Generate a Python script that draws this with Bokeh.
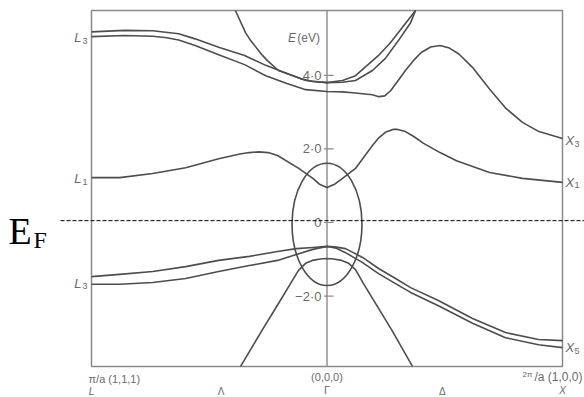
from bokeh.plotting import figure
from bokeh.models import Range1d
from bokeh.core.properties import value
from bokeh.embed import file_html
from bokeh.resources import INLINE

# Band structure along L -> Gamma -> X.
# k: reduced wave vector, L = -1, Gamma = 0, X = +1 ; energies in eV.

# steep conduction band with its minimum at Gamma
cond_k = [-0.389, -0.346, -0.325, -0.274, -0.253, -0.206, -0.185, -0.113, -0.062, 0.0,
          0.066, 0.121, 0.219, 0.270, 0.376]
cond_e = [5.76, 5.16, 4.95, 4.54, 4.40, 4.13, 4.08, 3.91, 3.83, 3.80,
          3.86, 3.99, 4.54, 4.89, 5.76]

# upper L3 band
l3a_k = [-1.0, -0.86, -0.74, -0.63, -0.56, -0.46, -0.35, -0.26, -0.17, -0.09, 0.0,
         0.066, 0.121, 0.193, 0.248, 0.304, 0.355, 0.376]
l3a_e = [5.18, 5.22, 5.21, 5.13, 4.99, 4.76, 4.54, 4.27, 4.05, 3.86, 3.80,
         3.81, 3.86, 4.13, 4.46, 4.95, 5.43, 5.76]

# lower L3 band, continuing to X3
l3b_k = [-1.0, -0.86, -0.74, -0.68, -0.63, -0.56, -0.46, -0.35, -0.26, -0.17, -0.09, 0.0,
         0.066, 0.121, 0.193, 0.22, 0.245, 0.27, 0.30, 0.333, 0.37, 0.40, 0.44, 0.48,
         0.52, 0.56, 0.62, 0.69, 0.76, 0.83, 0.90, 1.0]
l3b_e = [5.05, 5.08, 5.06, 5.02, 4.96, 4.81, 4.56, 4.29, 3.99, 3.78, 3.61, 3.56,
         3.55, 3.52, 3.47, 3.42, 3.44, 3.58, 3.84, 4.13, 4.42, 4.62, 4.77, 4.81,
         4.74, 4.58, 4.20, 3.63, 3.10, 2.72, 2.47, 2.28]

# L1 -> Gamma -> X1 band
l1_k = [-1.0, -0.88, -0.74, -0.60, -0.46, -0.37, -0.33, -0.29, -0.25, -0.21, -0.12, -0.06,
        -0.03, 0.0, 0.03, 0.066, 0.121, 0.193, 0.22, 0.248, 0.28, 0.30, 0.333, 0.37, 0.41,
        0.48, 0.55, 0.69, 0.83, 1.0]
l1_e = [1.22, 1.22, 1.33, 1.49, 1.73, 1.86, 1.90, 1.92, 1.90, 1.82, 1.47, 1.20,
        1.03, 0.95, 1.03, 1.20, 1.47, 2.09, 2.30, 2.45, 2.53, 2.53, 2.47, 2.33, 2.15,
        1.90, 1.68, 1.36, 1.20, 1.09]

# valence pair L3 -> Gamma -> X5
val_k = [-1.0, -0.88, -0.74, -0.60, -0.46, -0.33, -0.21, -0.13, -0.06, 0.0,
         0.04, 0.079, 0.151, 0.219, 0.291, 0.355, 0.473, 0.618, 0.758, 0.898, 1.0]
val_upper_e = [-1.47, -1.41, -1.33, -1.20, -1.03, -0.92, -0.79, -0.71, -0.68, -0.65,
               -0.67, -0.71, -0.95, -1.25, -1.52, -1.77, -2.12, -2.61, -2.99, -3.18, -3.21]
val_lower_e = [-1.68, -1.68, -1.63, -1.52, -1.33, -1.17, -1.03, -0.87, -0.73, -0.65,
               -0.70, -0.82, -1.09, -1.39, -1.66, -1.90, -2.26, -2.74, -3.13, -3.32, -3.40]

# deep band with its maximum at Gamma
deep_k = [-0.367, -0.274, -0.206, -0.155, -0.121, -0.091, -0.062, -0.028, 0.0,
          0.028, 0.062, 0.092, 0.121, 0.155, 0.206, 0.274, 0.363]
deep_e = [-3.91, -2.91, -2.20, -1.66, -1.30, -1.11, -1.03, -0.99, -0.98,
          -0.99, -1.03, -1.11, -1.28, -1.66, -2.20, -2.91, -3.91]

# closed orbit around Gamma: centre energy, k-width, energy height
loop_center_e = -0.05
loop_width_k = 0.297
loop_height_e = 3.32

# Fermi level
fermi_e = 0.05

# energy axis ticks along the Gamma line
tick_e = [4.0, 2.0, 0.0, -2.0]
tick_text = ["4·0", "2·0", "0", "−2·0"]

# symmetry points
k_L, k_G, k_X = -1.0, 0.0, 1.0
e_min, e_max = -3.91, 5.76

FRAME = "#8a8a8a"
BAND = "#4d4d4d"
TEXT = "#6a6a6a"
SANS = "Liberation Sans"

p = figure(width=584, height=397,
           x_range=Range1d(-1.3864, 1.0934), y_range=Range1d(-4.7554, 6.0326),
           x_axis_type=None, y_axis_type=None,
           output_backend="svg", toolbar_location=None,
           min_border=0, outline_line_color=None)
p.background_fill_color = "white"
p.border_fill_color = "white"

# Brillouin-zone panel and the energy axis at Gamma
p.quad(left=[k_L], right=[k_X], bottom=[e_min], top=[e_max],
       fill_color=None, line_color=FRAME, line_width=1.5)
p.segment(x0=[k_G], y0=[e_min], x1=[k_G], y1=[e_max], line_color=FRAME, line_width=1.4)
p.segment(x0=[-0.013] * len(tick_e), y0=tick_e, x1=[0.028] * len(tick_e), y1=tick_e,
          line_color=FRAME, line_width=1.2)
p.text(x=[k_G] * len(tick_e), y=tick_e, text=tick_text, x_offset=-5.5,
       text_font=value(SANS), text_font_size="13px", text_color=TEXT,
       text_align="right", text_baseline="middle")

# bands
for ks, es in [(cond_k, cond_e), (l3a_k, l3a_e), (l3b_k, l3b_e), (l1_k, l1_e),
               (val_k, val_upper_e), (val_k, val_lower_e), (deep_k, deep_e)]:
    p.line(ks, es, line_color=BAND, line_width=1.6, line_join="round")
p.ellipse(x=[k_G], y=[loop_center_e], width=loop_width_k, height=loop_height_e,
          fill_color=None, line_color=BAND, line_width=1.6)

# Fermi level
p.segment(x0=[-1.1316], y0=[fermi_e], x1=[1.0934], y1=[fermi_e],
          line_color="black", line_width=1, line_dash="4 2")


def txt(x, y, s, size, dx=0, dy=0, align="center", style="normal",
        color=TEXT, font=SANS, baseline="middle"):
    p.text(x=[x], y=[y], text=[s], x_offset=dx, y_offset=dy,
           text_font=value(font), text_font_size=size, text_font_style=style,
           text_color=color, text_align=align, text_baseline=baseline)


# energy axis title
txt(k_G, e_max, "(eV)", "12px", dx=-7, dy=27, align="right")
txt(k_G, e_max, "E", "12px", dx=-31, dy=27, align="right", style="italic")


# labels of the band edges at L and X
def point_label(k, e, letter, sub, side, dy):
    if side == "left":
        txt(k, e, letter, "13px", dx=-10, dy=dy, align="right", style="italic")
        txt(k, e, sub, "9px", dx=-9, dy=dy + 3, align="left")
    else:
        txt(k, e, letter, "13px", dx=3, dy=dy, align="left", style="italic")
        txt(k, e, sub, "9px", dx=12, dy=dy + 3, align="left")


point_label(k_L, l3a_e[0], "L", "3", "left", 6)
point_label(k_L, l1_e[0], "L", "1", "left", 1)
point_label(k_L, val_lower_e[0], "L", "3", "left", -1)
point_label(k_X, l3b_e[-1], "X", "3", "right", 2)
point_label(k_X, l1_e[-1], "X", "1", "right", 0)
point_label(k_X, val_lower_e[-1], "X", "5", "right", 0)

# wave-vector labels under the panel
txt(k_L, e_min, "π/a (1,1,1)", "11px", dx=-3, dy=13, align="left")
txt(k_L, e_min, "L", "10px", dy=25, style="italic")
txt(-0.45, e_min, "Λ", "10px", dy=25)
txt(k_G, e_min, "(0,0,0)", "11px", dy=11)
txt(k_G, e_min, "Γ", "11px", dy=24)
txt(0.49, e_min, "Δ", "10px", dy=25)
txt(k_X, e_min, "/a (1,0,0)", "12px", dx=20, dy=11, align="right")
txt(k_X, e_min, "2π", "8px", dx=-30, dy=8, align="right")
txt(k_X, e_min, "X", "10px", dy=24, style="italic")

# Fermi level label
txt(k_L, fermi_e, "E", "38px", dx=-83, dy=10, align="left", color="black",
    font="Liberation Serif", baseline="alphabetic")
txt(k_L, fermi_e, "F", "24px", dx=-58, dy=19, align="left", color="black",
    font="Liberation Serif", baseline="alphabetic")

open("out.html", "w").write(file_html(p, INLINE))
